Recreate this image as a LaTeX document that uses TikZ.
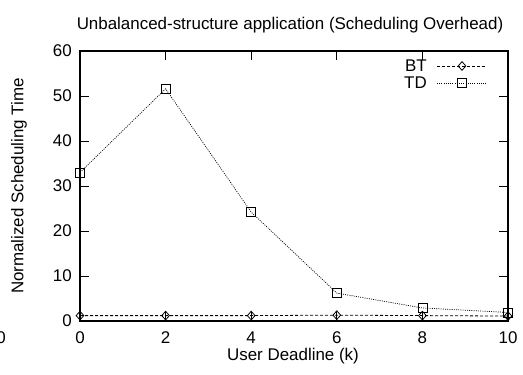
\documentclass[tikz,border=0pt]{standalone}
\usepackage{fontspec}
\setmainfont{Liberation Sans}
\usetikzlibrary{shapes.geometric}
\begin{document}
\begin{tikzpicture}[x=1bp,y=1bp,
  lbl/.style={font=\fontsize{17}{20}\selectfont, inner sep=0pt},
  frame/.style={line width=1.2bp},
  tickmark/.style={line width=1bp},
  btline/.style={line width=0.8bp, dash pattern=on 3bp off 2bp},
  tdline/.style={line width=0.7bp, dash pattern=on 1bp off 1.2bp},
  btmark/.style={draw, diamond, line width=0.8bp, inner sep=0pt, minimum width=8bp, minimum height=9bp},
  tdmark/.style={draw, rectangle, line width=0.8bp, inner sep=0pt, minimum size=9bp}]
\useasboundingbox (0,0) rectangle (523,374);
% frame
\draw[frame] (80,53) rectangle (508,323);
% ticks
\foreach \i in {0,2,...,10} {
  \draw[tickmark] ({80+42.8*\i},53) -- ++(0,9);
  \draw[tickmark] ({80+42.8*\i},323) -- ++(0,-9);
  \node[lbl] at ({80+42.8*\i},36) {\i};
}
\foreach \v in {0,10,...,60} {
  \draw[tickmark] (80,{53+4.5*\v}) -- ++(9,0);
  \draw[tickmark] (508,{53+4.5*\v}) -- ++(-9,0);
  \node[lbl, anchor=east] at (72,{53+4.5*\v}) {\v};
}
\node[lbl, anchor=east] (cut) at (6,36) {0};
% labels
\node[lbl] (title) at (290,349) {Unbalanced-structure application (Scheduling Overhead)};
\node[lbl] (xlab) at (293,18) {User Deadline (k)};
\node[lbl, rotate=90] (ylab) at (19,188) {Normalized Scheduling Time};
% data
\begin{scope}[shift={(80,53)}, x=42.8bp, y=4.5bp]
  \foreach \n/\xx/\yy in {b0/0/1.2, b1/2/1.2, b2/4/1.2, b3/6/1.3, b4/8/1.2, b5/10/1.1}
    \node[btmark] (\n) at (\xx,\yy) {};
  \foreach \n/\xx/\yy in {t0/0/33, t1/2/51.6, t2/4/24.2, t3/6/6.2, t4/8/2.9, t5/10/1.9}
    \node[tdmark] (\n) at (\xx,\yy) {};
\end{scope}
\draw[btline] (b0.center) -- (b1.center) -- (b2.center) -- (b3.center) -- (b4.center) -- (b5.center);
\draw[tdline] (t0.center) -- (t1.center) -- (t2.center) -- (t3.center) -- (t4.center) -- (t5.center);
% legend
\node[lbl, anchor=east] (lbt) at (427,308) {BT};
\node[lbl, anchor=east] (ltd) at (427,291) {TD};
\coordinate (bts) at (437,308);
\coordinate (bte) at (486,308);
\coordinate (tds) at (437,291);
\coordinate (tde) at (486,291);
\draw[btline] (bts) -- (bte);
\draw[tdline] (tds) -- (tde);
\node[btmark] (lbm) at (462,308) {};
\node[tdmark] (ltm) at (462,291) {};
\end{tikzpicture}
\end{document}
